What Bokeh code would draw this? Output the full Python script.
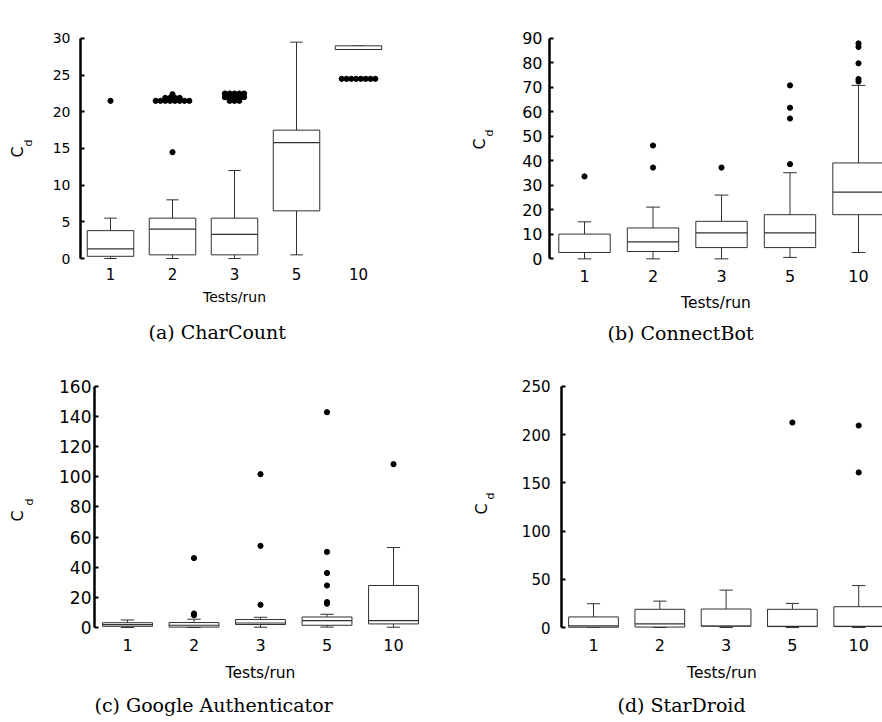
from bokeh.plotting import figure
from bokeh.layouts import column, row
from bokeh.models import FixedTicker, Range1d, Title
from bokeh.embed import file_html
from bokeh.resources import INLINE

categories = ["1", "2", "3", "5", "10"]

# (a) CharCount
cc_low = [0.0, 0.0, 0.0, 0.5, 28.5]
cc_q1 = [0.3, 0.5, 0.5, 6.5, 28.5]
cc_med = [1.3, 4.0, 3.3, 15.8, 28.5]
cc_q3 = [3.8, 5.5, 5.5, 17.5, 29.0]
cc_high = [5.5, 8.0, 12.0, 29.5, 29.0]
cc_out = [
    [21.5],
    [14.5, 21.5, 21.5, 21.5, 21.5, 21.5, 21.5, 21.5, 21.5, 21.9, 21.9, 21.9, 21.9, 22.4],
    [21.5, 21.5, 21.5, 22.0, 22.0, 22.0, 22.0, 22.0, 22.5, 22.5, 22.5, 22.5, 22.5],
    [],
    [24.5, 24.5, 24.5, 24.5, 24.5, 24.5, 24.5, 24.5],
]

# (b) ConnectBot
cb_low = [0.0, 0.0, 0.0, 0.6, 2.6]
cb_q1 = [2.6, 3.0, 4.6, 4.6, 18.0]
cb_med = [2.6, 6.9, 10.6, 10.6, 27.2]
cb_q3 = [10.1, 12.6, 15.3, 18.0, 39.1]
cb_high = [15.1, 21.1, 26.0, 35.1, 70.7]
cb_out = [
    [33.6],
    [37.2, 46.2],
    [37.2],
    [38.6, 57.2, 61.6, 70.7],
    [72.3, 73.3, 79.7, 86.4, 87.8],
]

# (c) Google Authenticator
ga_low = [0.0, 0.0, 0.2, 0.3, 0.2]
ga_q1 = [0.8, 0.3, 2.0, 1.5, 2.4]
ga_med = [1.9, 1.5, 3.0, 4.6, 4.6]
ga_q3 = [3.2, 3.3, 5.3, 7.0, 27.9]
ga_high = [5.0, 5.5, 6.8, 8.8, 53.1]
ga_out = [
    [],
    [8.2, 9.3, 46.1],
    [15.1, 54.2, 101.8],
    [15.8, 16.9, 27.9, 36.2, 50.2, 142.9],
    [108.4],
]

# (d) StarDroid
sd_low = [0.0, 0.0, 0.0, 0.0, 0.0]
sd_q1 = [0.3, 0.5, 1.4, 1.0, 1.0]
sd_med = [1.7, 3.8, 1.6, 1.2, 1.2]
sd_q3 = [11.0, 18.9, 19.2, 18.9, 21.6]
sd_high = [24.7, 27.4, 38.8, 25.0, 43.5]
sd_out = [
    [],
    [],
    [],
    [212.6],
    [160.8, 209.5],
]

captions = ["(a) CharCount", "(b) ConnectBot", "(c) Google Authenticator", "(d) StarDroid"]
y_main = "C"
y_sub = "d"

SANS = "DejaVu Sans"
SERIF = "DejaVu Serif"
FIG_W, FIG_H = 441, 361


def make_panel(low, q1, med, q3, high, outs, caption, ymax, ystep, lay):
    fx, fy = lay["fig"]
    fl, c0, sp, fr = lay["frame_left"], lay["cat0"], lay["spacing"], lay["right"]
    y0, yt = lay["y0"], lay["ytop"]
    ppu = (y0 - yt) / ymax
    ftop, fbot = yt - 5, y0 + 4
    xs = -(c0 - fl) / sp
    xe = (fr - c0) / sp
    ys = -(fbot - y0) / ppu
    ye = ymax + (yt - ftop) / ppu

    p = figure(width=FIG_W, height=FIG_H, output_backend="svg", toolbar_location=None,
               x_range=Range1d(xs, xe), y_range=Range1d(ys, ye),
               min_border_left=int(round(fl - fx)), min_border_right=int(round(fx + FIG_W - fr)),
               min_border_top=int(round(ftop - fy)), min_border_bottom=int(round(fy + FIG_H - fbot)))
    p.outline_line_color = None
    p.grid.visible = False
    p.background_fill_color = "white"
    p.border_fill_color = "white"

    idx = list(range(len(categories)))
    bw = 0.75
    cw = 0.2
    lc = "#303030"
    # whiskers
    p.segment(x0=idx, y0=q3, x1=idx, y1=high, line_color=lc, line_width=1)
    p.segment(x0=idx, y0=low, x1=idx, y1=q1, line_color=lc, line_width=1)
    p.segment(x0=[i - cw / 2 for i in idx], y0=high, x1=[i + cw / 2 for i in idx], y1=high,
              line_color=lc, line_width=1)
    p.segment(x0=[i - cw / 2 for i in idx], y0=low, x1=[i + cw / 2 for i in idx], y1=low,
              line_color=lc, line_width=1)
    # boxes
    p.vbar(x=idx, bottom=q1, top=q3, width=bw, fill_color="white", line_color=lc, line_width=1)
    p.segment(x0=[i - bw / 2 for i in idx], y0=med, x1=[i + bw / 2 for i in idx], y1=med,
              line_color=lc, line_width=1.2)
    # outliers: equal values are spread side by side (dot stacking)
    dot_px = 4.8
    ox, oy = [], []
    for i, vals in enumerate(outs):
        groups = {}
        for v in vals:
            groups.setdefault(v, 0)
            groups[v] += 1
        for v, n in groups.items():
            for k in range(n):
                ox.append(i + (k - (n - 1) / 2) * dot_px / sp)
                oy.append(v)
    p.scatter(x=ox, y=oy, size=5.2, fill_color="black", line_color="black")

    # y axis
    ya = p.yaxis[0]
    ya.ticker = FixedTicker(ticks=list(range(0, ymax + 1, ystep)))
    ya.bounds = (0, ymax)
    ya.axis_line_width = 2.5
    ya.axis_line_color = "black"
    ya.major_tick_in = 4
    ya.major_tick_out = 0
    ya.major_tick_line_width = 2
    ya.minor_tick_line_color = None
    ya.major_label_standoff = lay["ystand"]
    ya.major_label_text_font = SANS
    ya.major_label_text_font_size = lay["yfs"]
    ya.major_label_text_color = "black"

    # x axis
    xa = p.xaxis[0]
    xa.ticker = FixedTicker(ticks=idx)
    xa.major_label_overrides = {i: c for i, c in enumerate(categories)}
    xa.axis_line_color = None
    xa.major_tick_line_color = None
    xa.minor_tick_line_color = None
    xa.major_tick_out = 0
    xa.major_tick_in = 0
    xa.major_label_standoff = lay["xstand"]
    xa.major_label_text_font = SANS
    xa.major_label_text_font_size = lay["xfs"]
    xa.major_label_text_color = "black"
    xa.axis_label = "Tests/run"
    xa.axis_label_standoff = lay["lstand"]
    xa.axis_label_text_font = SANS
    xa.axis_label_text_font_size = lay["lfs"]
    xa.axis_label_text_font_style = "normal"
    xa.axis_label_text_color = "black"

    # y label C_d: subscript first (nearer the axis), then the C
    p.add_layout(Title(text=y_sub, align="left", offset=lay["d_off"], standoff=lay["d_stand"],
                       text_font=SANS, text_font_size="11px", text_font_style="normal",
                       text_color="black"), "left")
    p.add_layout(Title(text=y_main, align="left", offset=lay["C_off"], standoff=lay["C_stand"],
                       text_font=SANS, text_font_size="16px", text_font_style="normal",
                       text_color="black"), "left")
    # caption
    p.add_layout(Title(text=caption, align="left", offset=lay["cap_left"] - fl,
                       standoff=lay["cap_stand"], text_font=SERIF, text_font_size="19px",
                       text_font_style="normal", text_color="black"), "below")
    return p


lay_a = dict(fig=(0, 0), frame_left=80, cat0=110, spacing=62, right=388, y0=258, ytop=37.7,
             ystand=10, yfs="14px", xstand=5, xfs="15px", lstand=6, lfs="14px",
             d_off=116, d_stand=30, C_off=105, C_stand=-45, cap_left=148, cap_stand=23)
lay_b = dict(fig=(441, 0), frame_left=549, cat0=584, spacing=68.5, right=882, y0=258, ytop=15,
             ystand=7, yfs="16px", xstand=7, xfs="16px", lstand=9, lfs="15.5px",
             d_off=126, d_stand=48, C_off=113, C_stand=-64, cap_left=607, cap_stand=10)
lay_c = dict(fig=(0, 361), frame_left=94, cat0=127, spacing=66.5, right=426, y0=629, ytop=386,
             ystand=3, yfs="17px", xstand=7, xfs="16px", lstand=10, lfs="15.5px",
             d_off=126, d_stand=41, C_off=110, C_stand=-52, cap_left=94, cap_stand=14)
lay_d = dict(fig=(441, 361), frame_left=561, cat0=593, spacing=66.3, right=882, y0=629, ytop=386,
             ystand=11, yfs="15px", xstand=7, xfs="16px", lstand=10, lfs="15.5px",
             d_off=132, d_stand=43, C_off=117, C_stand=-60, cap_left=617, cap_stand=14)

pa = make_panel(cc_low, cc_q1, cc_med, cc_q3, cc_high, cc_out, captions[0], 30, 5, lay_a)
pb = make_panel(cb_low, cb_q1, cb_med, cb_q3, cb_high, cb_out, captions[1], 90, 10, lay_b)
pc = make_panel(ga_low, ga_q1, ga_med, ga_q3, ga_high, ga_out, captions[2], 160, 20, lay_c)
pd = make_panel(sd_low, sd_q1, sd_med, sd_q3, sd_high, sd_out, captions[3], 250, 50, lay_d)

layout = column(row(pa, pb, spacing=0), row(pc, pd, spacing=0), spacing=0)
open("out.html", "w").write(file_html(layout, INLINE))
